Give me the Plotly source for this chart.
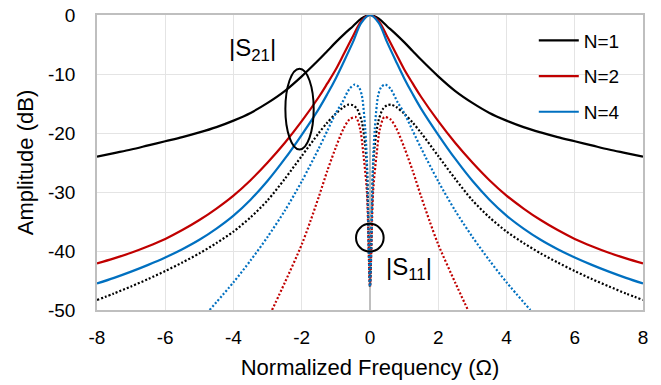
import plotly.graph_objects as go

# ---- data ----
# |S21| (solid lines)
x_s21 = [-8, -7.5, -7, -6.5, -6, -5.5, -5, -4.5, -4, -3.5, -3, -2.5, -2, -1.5, -1.25, -1, -0.75, -0.5, -0.25, 0,
         0.25, 0.5, 0.75, 1, 1.25, 1.5, 2, 2.5, 3, 3.5, 4, 4.5, 5, 5.5, 6, 6.5, 7, 7.5, 8]
s21_n1 = [-24.0, -23.4, -22.8, -22.1, -21.4, -20.7, -19.9, -19.0, -17.9, -16.6, -14.9, -12.9, -10.4, -7.6, -6.1, -4.6, -3.2, -1.9, -0.6, 0,
          -0.6, -1.9, -3.2, -4.6, -6.1, -7.6, -10.4, -12.9, -14.9, -16.6, -17.9, -19.0, -19.9, -20.7, -21.4, -22.1, -22.8, -23.4, -24.0]
s21_n2 = [-42.1, -41.25, -40.3, -39.2, -37.95, -36.45, -34.75, -32.8, -30.6, -28.0, -25.0, -21.7, -18.0, -13.9, -11.6, -9.2, -6.4, -3.6, -1.0, 0,
          -1.0, -3.6, -6.4, -9.2, -11.6, -13.9, -18.0, -21.7, -25.0, -28.0, -30.6, -32.8, -34.75, -36.45, -37.95, -39.2, -40.3, -41.25, -42.1]
s21_n4 = [-45.5, -44.55, -43.5, -42.35, -41.1, -39.7, -38.1, -36.2, -34.0, -31.3, -28.1, -24.4, -20.3, -15.9, -13.4, -10.7, -7.7, -4.6, -1.3, 0,
          -1.3, -4.6, -7.7, -10.7, -13.4, -15.9, -20.3, -24.4, -28.1, -31.3, -34.0, -36.2, -38.1, -39.7, -41.1, -42.35, -43.5, -44.55, -45.5]

# |S11| (dotted lines)
x_s11_n1 = [-8, -7.5, -7, -6.5, -6, -5.5, -5, -4.5, -4, -3.5, -3, -2.5, -2, -1.5, -1.26, -1.0, -0.77, -0.63, -0.5, -0.38, -0.24, -0.14, -0.09, 0,
            0.09, 0.14, 0.24, 0.38, 0.5, 0.63, 0.77, 1.0, 1.26, 1.5, 2, 2.5, 3, 3.5, 4, 4.5, 5, 5.5, 6, 6.5, 7, 7.5, 8]
s11_n1 = [-48.3, -47.2, -46.0, -44.75, -43.4, -41.95, -40.4, -38.65, -36.7, -34.3, -31.4, -27.8, -23.9, -20.0, -18.3, -16.7, -15.6, -15.2, -15.3, -15.9, -18.1, -22.1, -26.0, -46.0,
          -26.0, -22.1, -18.1, -15.9, -15.3, -15.2, -15.6, -16.7, -18.3, -20.0, -23.9, -27.8, -31.4, -34.3, -36.7, -38.65, -40.4, -41.95, -43.4, -44.75, -46.0, -47.2, -48.3]

x_s11_n2 = [-2.87, -2.5, -2.0, -1.75, -1.5, -1.25, -1.0, -0.77, -0.6, -0.42, -0.29, -0.19, -0.09, 0,
            0.09, 0.19, 0.29, 0.42, 0.6, 0.77, 1.0, 1.25, 1.5, 1.75, 2.0, 2.5, 2.87]
s11_n2 = [-50.0, -45.4, -38.9, -35.0, -30.8, -26.4, -22.4, -19.2, -17.7, -17.3, -19.3, -23.8, -30.0, -46.0,
          -30.0, -23.8, -19.3, -17.3, -17.7, -19.2, -22.4, -26.4, -30.8, -35.0, -38.9, -45.4, -50.0]

x_s11_n4 = [-4.7, -4.0, -3.5, -3.0, -2.5, -2.0, -1.5, -1.25, -1.0, -0.82, -0.6, -0.45, -0.33, -0.24, -0.14, -0.09, 0,
            0.09, 0.14, 0.24, 0.33, 0.45, 0.6, 0.82, 1.0, 1.25, 1.5, 2.0, 2.5, 3.0, 3.5, 4.0, 4.7]
s11_n4 = [-50.0, -45.3, -41.6, -37.6, -33.2, -28.2, -22.6, -19.6, -16.6, -14.9, -12.5, -11.8, -12.2, -13.6, -19.3, -24.9, -46.0,
          -24.9, -19.3, -13.6, -12.2, -11.8, -12.5, -14.9, -16.6, -19.6, -22.6, -28.2, -33.2, -37.6, -41.6, -45.3, -50.0]

series_names = ["N=1", "N=2", "N=4"]
colors = ["#000000", "#C00000", "#0070C0"]

x_ticks = [-8, -6, -4, -2, 0, 2, 4, 6, 8]
x_ticktext = ["-8", "-6", "-4", "-2", "0", "2", "4", "6", "8"]
y_ticks = [-50, -40, -30, -20, -10, 0]
y_ticktext = ["-50", "-40", "-30", "-20", "-10", "0"]

FONT = "Liberation Sans, Arial, sans-serif"

fig = go.Figure()

s21 = [(x_s21, s21_n1), (x_s21, s21_n2), (x_s21, s21_n4)]
s11 = [(x_s11_n1, s11_n1), (x_s11_n2, s11_n2), (x_s11_n4, s11_n4)]

for (xs, ys), name, c in zip(s21, series_names, colors):
    fig.add_trace(go.Scatter(x=xs, y=ys, mode="lines", name=name, legendgroup=name,
                             line=dict(color=c, width=2.2, shape="spline", smoothing=1.0)))
for (xs, ys), name, c in zip(s11, series_names, colors):
    fig.add_trace(go.Scatter(x=xs, y=ys, mode="lines", name=name + " S11", showlegend=False,
                             line=dict(color=c, width=2.2, dash="2px,2px", shape="spline", smoothing=0.8)))

fig.add_shape(type="circle", xref="x", yref="y", x0=-2.48, x1=-1.65, y0=-22.8, y1=-9.1,
              line=dict(color="black", width=2))
fig.add_shape(type="circle", xref="x", yref="y", x0=-0.41, x1=0.40, y0=-40.1, y1=-35.4,
              line=dict(color="black", width=2))

fig.add_annotation(x=-3.45, y=-5.8, xref="x", yref="y", text="|S<sub>21</sub>|", showarrow=False,
                   font=dict(family=FONT, size=24, color="black"))
fig.add_annotation(x=1.13, y=-43.0, xref="x", yref="y", text="|S<sub>11</sub>|", showarrow=False,
                   font=dict(family=FONT, size=24, color="black"))

fig.update_layout(
    width=661, height=385,
    margin=dict(l=97, r=18, t=15, b=75, autoexpand=False),
    paper_bgcolor="white", plot_bgcolor="white",
    font=dict(family=FONT, size=19, color="black"),
    legend=dict(x=0.80, y=0.978, xanchor="left", yanchor="top", bgcolor="rgba(0,0,0,0)",
                font=dict(family=FONT, size=19), itemwidth=40, tracegroupgap=8,
                traceorder="grouped"),
    showlegend=True,
)
fig.update_xaxes(range=[-8, 8], tickvals=x_ticks, ticktext=x_ticktext, automargin=False,
                 showgrid=True, gridcolor="#e4e4e4", gridwidth=1,
                 showline=True, mirror=True, linecolor="#bfbfbf", linewidth=1.5,
                 zeroline=True, zerolinecolor="#bfbfbf", zerolinewidth=1.5,
                 ticks="outside", ticklen=9, tickcolor="rgba(0,0,0,0)",
                 tickfont=dict(family=FONT, size=19),
                 title=dict(text="Normalized Frequency (Ω)", font=dict(family=FONT, size=22), standoff=13))
fig.update_yaxes(range=[-50, 0], tickvals=y_ticks, ticktext=y_ticktext, automargin=False,
                 showgrid=True, gridcolor="#e4e4e4", gridwidth=1,
                 showline=True, mirror=True, linecolor="#bfbfbf", linewidth=1.5,
                 zeroline=False,
                 ticks="outside", ticklen=16, tickcolor="rgba(0,0,0,0)",
                 tickfont=dict(family=FONT, size=19),
                 title=dict(text="Amplitude (dB)", font=dict(family=FONT, size=22), standoff=8))

fig.write_html("out.html", config={"displayModeBar": False},
               post_script="document.body.style.margin='0px';")
